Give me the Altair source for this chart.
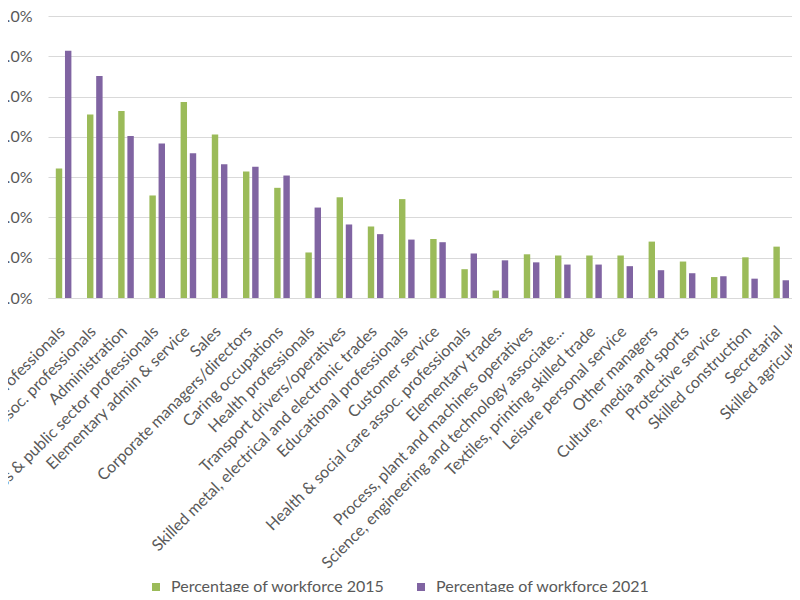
import altair as alt
import pandas as pd

categories = [
    "Science & technology professionals",
    "Business & public service assoc. professionals",
    "Administration",
    "Business & public sector professionals",
    "Elementary admin & service",
    "Sales",
    "Corporate managers/directors",
    "Caring  occupations",
    "Health professionals",
    "Transport  drivers/operatives",
    "Skilled metal, electrical and electronic trades",
    "Educational professionals",
    "Customer service",
    "Health & social care assoc. professionals",
    "Elementary trades",
    "Process, plant and machines operatives",
    "Science, engineering and technology associate...",
    "Textiles, printing  skilled  trade",
    "Leisure  personal service",
    "Other managers",
    "Culture, media and sports",
    "Protective service",
    "Skilled construction",
    "Secretarial",
    "Skilled agriculture",
]

pct_2015 = [6.43, 9.11, 9.28, 5.09, 9.73, 8.12, 6.28, 5.47, 2.26, 5.00, 3.55, 4.91, 2.93,
            1.43, 0.37, 2.17, 2.11, 2.11, 2.11, 2.80, 1.81, 1.04, 2.02, 2.55, 1.30]
pct_2021 = [12.28, 11.02, 8.04, 7.67, 7.19, 6.64, 6.51, 6.08, 4.49, 3.65, 3.17, 2.90, 2.77,
            2.21, 1.87, 1.77, 1.66, 1.66, 1.58, 1.38, 1.23, 1.08, 0.96, 0.88, 0.80]

series = ["Percentage of workforce 2015", "Percentage of workforce 2021"]
colors = ["#9BBB59", "#8064A2"]
y_ticks = [0, 0.02, 0.04, 0.06, 0.08, 0.10, 0.12, 0.14]

rows = []
for c, a, b in zip(categories, pct_2015, pct_2021):
    rows.append({"cat": c, "series": series[0], "value": a / 100})
    rows.append({"cat": c, "series": series[1], "value": b / 100})
df = pd.DataFrame(rows)

FONT = "Lato"
TXT = "#595959"

chart = alt.Chart(df).mark_bar().encode(
    x=alt.X("cat:N", sort=categories,
            scale=alt.Scale(range=[0, 780], paddingInner=0.5, paddingOuter=0.25),
            axis=alt.Axis(title=None, labelAngle=-45, labelAlign="right", labelBaseline="top",
                          labelPadding=25, labelOffset=-7, ticks=False, domainColor="#D9D9D9",
                          labelLimit=1000, labelOverlap=False, labelFontSize=16,
                          labelColor=TXT, labelFont=FONT)),
    xOffset=alt.XOffset("series:N", sort=series,
                        scale=alt.Scale(paddingInner=0.3, paddingOuter=0)),
    y=alt.Y("value:Q", scale=alt.Scale(domain=[0, 0.14], nice=False),
            axis=alt.Axis(values=y_ticks, format=".1%", title=None, grid=True,
                          gridColor="#D9D9D9", domain=False, ticks=False, tickSize=0,
                          labelPadding=16, labelFontSize=16, labelColor=TXT, labelFont=FONT)),
    color=alt.Color("series:N", sort=series,
                    scale=alt.Scale(domain=series, range=colors),
                    legend=alt.Legend(title=None, orient="none", direction="horizontal",
                                      legendX=100, legendY=563, symbolType="square",
                                      symbolSize=64, symbolStrokeWidth=0, labelOffset=7,
                                      columnPadding=28, labelFontSize=16, labelColor=TXT,
                                      labelFont=FONT, labelLimit=500)),
).properties(
    width=744, height=282,
    padding={"left": 40, "top": 8, "right": 0, "bottom": 294},
    autosize=alt.AutoSizeParams(type="none"),
).configure_view(stroke=None)

chart.save("out.html", embed_options={"renderer": "svg", "actions": False})
